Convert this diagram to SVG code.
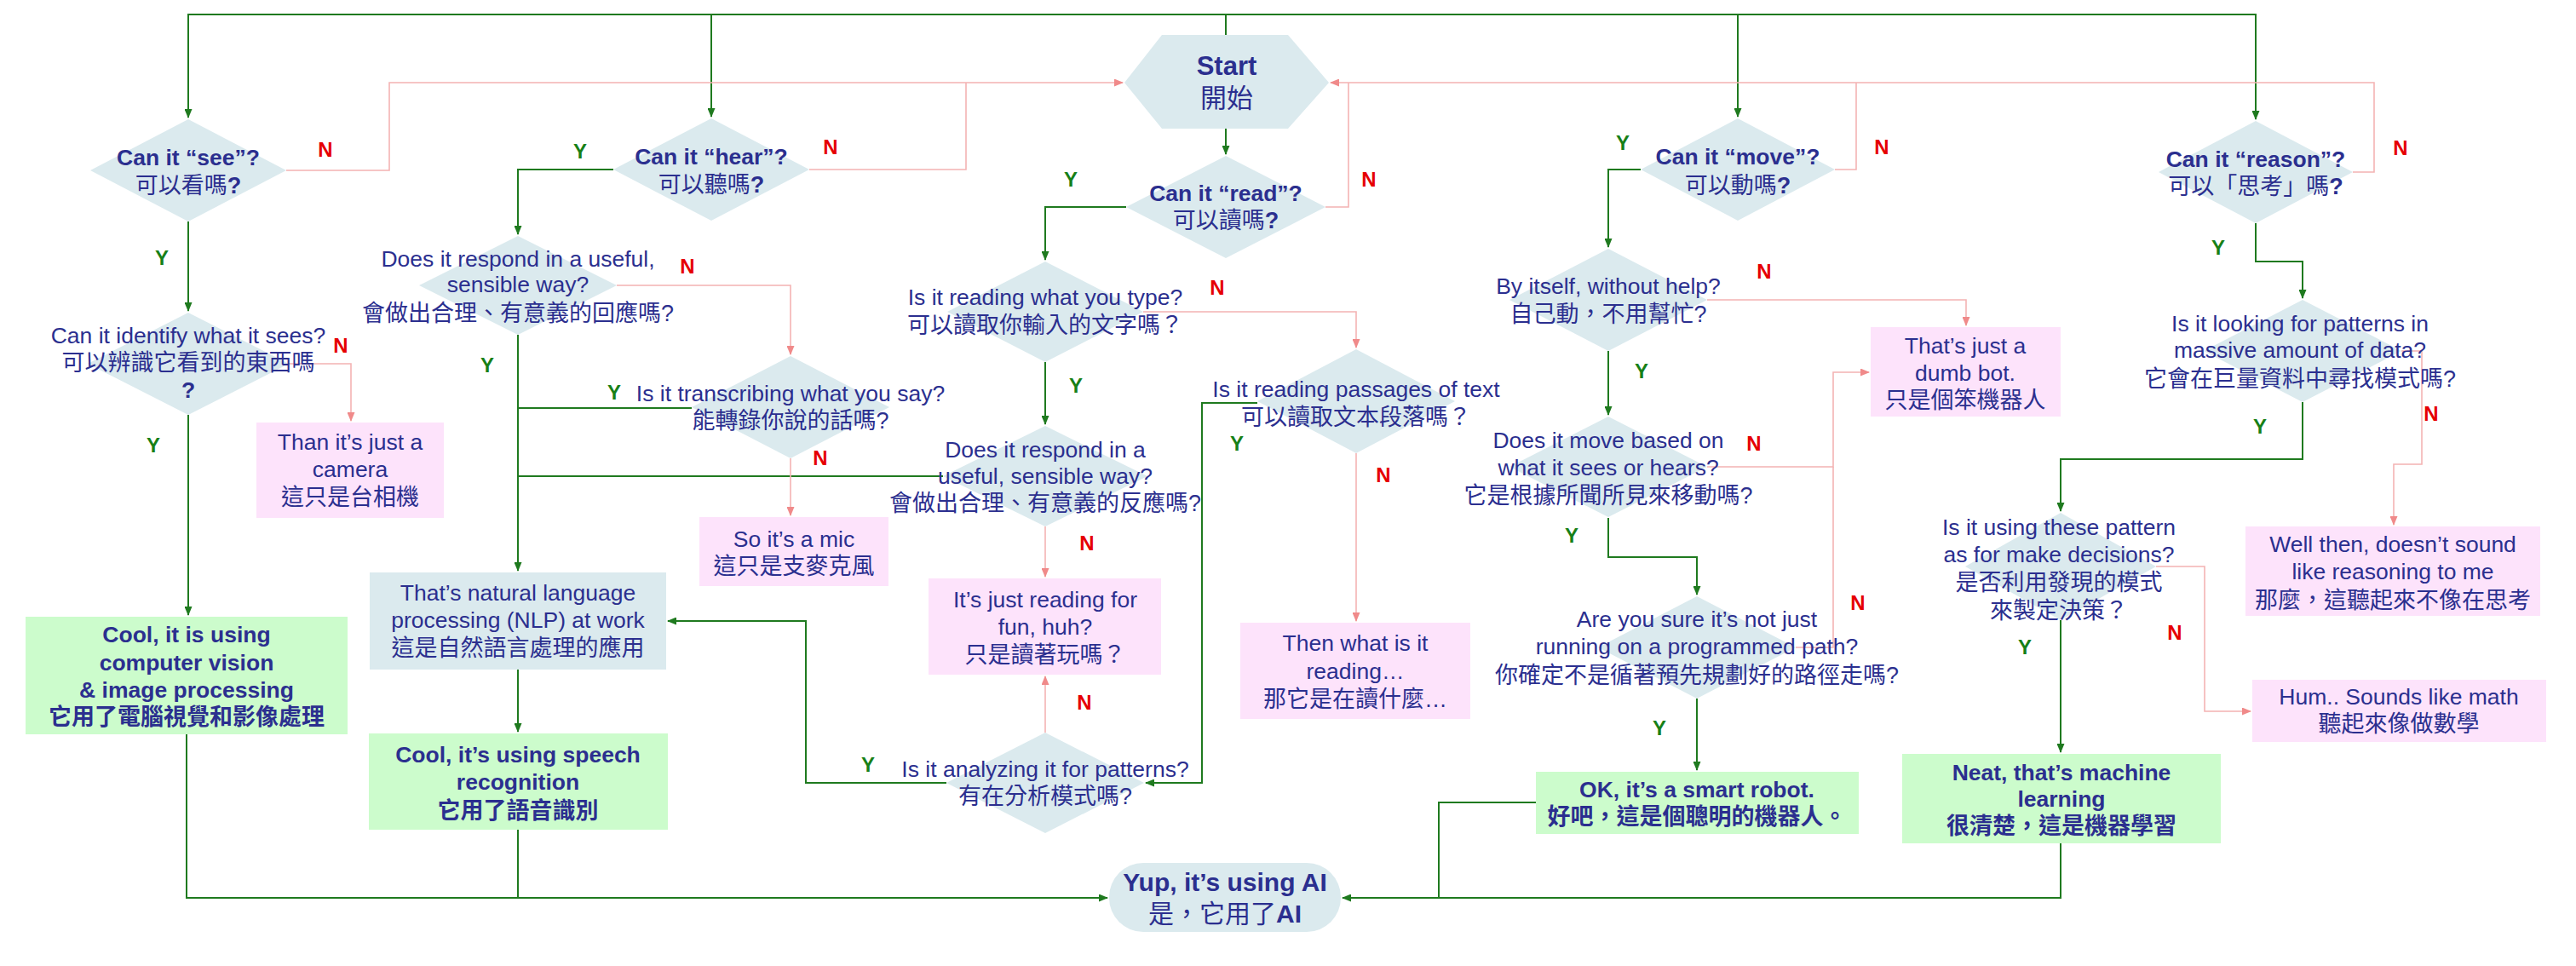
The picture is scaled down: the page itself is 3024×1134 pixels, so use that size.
<svg xmlns="http://www.w3.org/2000/svg" width="3024" height="1134" viewBox="0 0 3024 1134">
<style>
.t{font-family:"Liberation Sans","Noto Sans CJK TC",sans-serif;font-size:26.5px;fill:#2b2f8f;text-anchor:middle}
.b{font-weight:bold}
.c{font-size:27px}
.d{fill:#dbeaee}
.pk{fill:#fde3fb}
.gr{fill:#ccfccc}
.g{stroke:#1f7a1f;stroke-width:2;fill:none}
.r{stroke:#f4b3b3;stroke-width:1.6;fill:none}
.ly{fill:#178017;font-family:"Liberation Sans",sans-serif;font-weight:bold;font-size:24px;text-anchor:middle}
.ln{fill:#e60000;font-family:"Liberation Sans",sans-serif;font-weight:bold;font-size:24px;text-anchor:middle}
</style>
<defs>
<marker id="ag" markerWidth="11" markerHeight="9" refX="10" refY="4.5" orient="auto" markerUnits="userSpaceOnUse"><path d="M0,0 L11,4.5 L0,9 z" fill="#1f7a1f"/></marker>
<marker id="ar" markerWidth="11" markerHeight="9" refX="10" refY="4.5" orient="auto" markerUnits="userSpaceOnUse"><path d="M0,0 L11,4.5 L0,9 z" fill="#f08a8a"/></marker>
</defs>
<rect width="3024" height="1134" fill="#ffffff"/>

<g id="connectors">
<path class="g" d="M1439,41 V17 H221 V138" marker-end="url(#ag)"/>
<path class="g" d="M835,17 V137" marker-end="url(#ag)"/>
<path class="g" d="M1439,17 H2648 V140" marker-end="url(#ag)"/>
<path class="g" d="M2040,17 V137" marker-end="url(#ag)"/>
<path class="g" d="M1439,151 V181" marker-end="url(#ag)"/>
<path class="g" d="M221,260 V365" marker-end="url(#ag)"/>
<path class="g" d="M221,487 V722" marker-end="url(#ag)"/>
<path class="g" d="M219,862 V1054 H1300" marker-end="url(#ag)"/>
<path class="g" d="M720,199 H608 V275" marker-end="url(#ag)"/>
<path class="g" d="M608,393 V670" marker-end="url(#ag)"/>
<path class="g" d="M812,479 H608"/>
<path class="g" d="M1107,559 H608"/>
<path class="g" d="M608,786 V859" marker-end="url(#ag)"/>
<path class="g" d="M608,974 V1054"/>
<path class="g" d="M1322,243 H1227 V305" marker-end="url(#ag)"/>
<path class="g" d="M1227,425 V498" marker-end="url(#ag)"/>
<path class="g" d="M1476,473 H1411 V919 H1345" marker-end="url(#ag)"/>
<path class="g" d="M1111,919 H946 V729 H784" marker-end="url(#ag)"/>
<path class="g" d="M1926,199 H1888 V290" marker-end="url(#ag)"/>
<path class="g" d="M1888,412 V487" marker-end="url(#ag)"/>
<path class="g" d="M1888,608 V654 H1992 V698" marker-end="url(#ag)"/>
<path class="g" d="M1992,820 V904" marker-end="url(#ag)"/>
<path class="g" d="M1803,942 H1689 V1054"/>
<path class="g" d="M2419,990 V1054 H1576" marker-end="url(#ag)"/>
<path class="g" d="M2648,262 V307 H2703 V350" marker-end="url(#ag)"/>
<path class="g" d="M2703,472 V539 H2419 V600" marker-end="url(#ag)"/>
<path class="g" d="M2419,728 V883" marker-end="url(#ag)"/>

<path class="r" d="M336,200 H457 V97 H1318" marker-end="url(#ar)"/>
<path class="r" d="M950,199 H1134 V97"/>
<path class="r" d="M2762,202 H2787 V97 H1562" marker-end="url(#ar)"/>
<path class="r" d="M2154,199 H2179 V97"/>
<path class="r" d="M1556,243 H1583 V97"/>
<path class="r" d="M339,427 H412 V494" marker-end="url(#ar)"/>
<path class="r" d="M724,335 H928 V416" marker-end="url(#ar)"/>
<path class="r" d="M928,538 V605" marker-end="url(#ar)"/>
<path class="r" d="M1342,366 H1592 V408" marker-end="url(#ar)"/>
<path class="r" d="M1592,532 V729" marker-end="url(#ar)"/>
<path class="r" d="M1227,618 V677" marker-end="url(#ar)"/>
<path class="r" d="M1227,860 V794" marker-end="url(#ar)"/>
<path class="r" d="M2004,352 H2308 V382" marker-end="url(#ar)"/>
<path class="r" d="M2004,548 H2152 V437 H2194" marker-end="url(#ar)"/>
<path class="r" d="M2108,760 H2152 V548"/>
<path class="r" d="M2819,412 H2843 V545 H2810 V616" marker-end="url(#ar)"/>
<path class="r" d="M2531,665 H2588 V835 H2642" marker-end="url(#ar)"/>

<text class="ly" x="190" y="311">Y</text>
<text class="ly" x="180" y="531">Y</text>
<text class="ly" x="681" y="186">Y</text>
<text class="ly" x="572" y="437">Y</text>
<text class="ly" x="721" y="469">Y</text>
<text class="ly" x="1019" y="906">Y</text>
<text class="ly" x="1257" y="219">Y</text>
<text class="ly" x="1263" y="461">Y</text>
<text class="ly" x="1452" y="529">Y</text>
<text class="ly" x="1905" y="176">Y</text>
<text class="ly" x="1927" y="444">Y</text>
<text class="ly" x="1845" y="637">Y</text>
<text class="ly" x="1948" y="863">Y</text>
<text class="ly" x="2604" y="299">Y</text>
<text class="ly" x="2653" y="509">Y</text>
<text class="ly" x="2377" y="768">Y</text>

<text class="ln" x="382" y="184">N</text>
<text class="ln" x="400" y="414">N</text>
<text class="ln" x="975" y="181">N</text>
<text class="ln" x="807" y="321">N</text>
<text class="ln" x="963" y="546">N</text>
<text class="ln" x="1607" y="219">N</text>
<text class="ln" x="1429" y="346">N</text>
<text class="ln" x="1624" y="566">N</text>
<text class="ln" x="1276" y="646">N</text>
<text class="ln" x="1273" y="833">N</text>
<text class="ln" x="2209" y="181">N</text>
<text class="ln" x="2071" y="327">N</text>
<text class="ln" x="2059" y="529">N</text>
<text class="ln" x="2181" y="716">N</text>
<text class="ln" x="2818" y="182">N</text>
<text class="ln" x="2854" y="494">N</text>
<text class="ln" x="2553" y="751">N</text>
</g>

<g id="start">
<polygon class="d" points="1320,97 1364,41 1512,41 1560,97 1512,151 1364,151"/>
<text class="t b" x="1440" y="88" style="font-size:31px">Start</text>
<text class="t" x="1440" y="126" style="font-size:31px">開始</text>
</g>

<g id="see">
<polygon class="d" points="221,140 336,200 221,260 106,200"/>
<text class="t b" x="221" y="194">Can it “see”?</text>
<text class="t c" x="221" y="227">可以看嗎<tspan class="b">?</tspan></text>
</g>
<g id="identify">
<polygon class="d" points="221,367 339,427 221,487 103,427"/>
<text class="t" x="221" y="403">Can it identify what it sees?</text>
<text class="t c" x="221" y="435">可以辨識它看到的東西嗎</text>
<text class="t b" x="221" y="467">?</text>
</g>
<g id="camera">
<rect class="pk" x="301" y="496" width="220" height="112"/>
<text class="t" x="411" y="528">Than it’s just a</text>
<text class="t" x="411" y="560">camera</text>
<text class="t c" x="411" y="593">這只是台相機</text>
</g>
<g id="vision">
<rect class="gr" x="30" y="724" width="378" height="138"/>
<text class="t b" x="219" y="754">Cool, it is using</text>
<text class="t b" x="219" y="787">computer vision</text>
<text class="t b" x="219" y="819">&amp; image processing</text>
<text class="t c b" x="219" y="851">它用了電腦視覺和影像處理</text>
</g>

<g id="hear">
<polygon class="d" points="835,139 950,199 835,259 720,199"/>
<text class="t b" x="835" y="193">Can it “hear”?</text>
<text class="t c" x="835" y="226">可以聽嗎<tspan class="b">?</tspan></text>
</g>
<g id="respond1">
<polygon class="d" points="608,277 724,335 608,393 492,335"/>
<text class="t" x="608" y="313">Does it respond in a useful,</text>
<text class="t" x="608" y="343">sensible way?</text>
<text class="t c" x="608" y="377">會做出合理、有意義的回應嗎?</text>
</g>
<g id="transcribe">
<polygon class="d" points="928,418 1044,478 928,538 812,478"/>
<text class="t" x="928" y="471">Is it transcribing what you say?</text>
<text class="t c" x="928" y="503">能轉錄你說的話嗎?</text>
</g>
<g id="mic">
<rect class="pk" x="821" y="607" width="222" height="81"/>
<text class="t" x="932" y="642">So it’s a mic</text>
<text class="t c" x="932" y="674">這只是支麥克風</text>
</g>
<g id="nlp">
<rect class="d" x="434" y="672" width="348" height="114"/>
<text class="t" x="608" y="705">That’s natural language</text>
<text class="t" x="608" y="737">processing  (NLP) at work</text>
<text class="t c" x="608" y="770">這是自然語言處理的應用</text>
</g>
<g id="speech">
<rect class="gr" x="433" y="861" width="351" height="113"/>
<text class="t b" x="608" y="895">Cool, it’s using speech</text>
<text class="t b" x="608" y="927">recognition</text>
<text class="t c b" x="608" y="961">它用了語音識別</text>
</g>

<g id="read">
<polygon class="d" points="1439,183 1556,243 1439,303 1322,243"/>
<text class="t b" x="1439" y="236">Can it “read”?</text>
<text class="t c" x="1439" y="268">可以讀嗎<tspan class="b">?</tspan></text>
</g>
<g id="typed">
<polygon class="d" points="1227,307 1342,366 1227,425 1112,366"/>
<text class="t" x="1227" y="358">Is it reading what you type?</text>
<text class="t c" x="1227" y="391">可以讀取你輸入的文字嗎？</text>
</g>
<g id="respond2">
<polygon class="d" points="1227,500 1347,559 1227,618 1107,559"/>
<text class="t" x="1227" y="537">Does it respond in a</text>
<text class="t" x="1227" y="568">useful, sensible way?</text>
<text class="t c" x="1227" y="600">會做出合理、有意義的反應嗎?</text>
</g>
<g id="fun">
<rect class="pk" x="1090" y="679" width="273" height="113"/>
<text class="t" x="1227" y="713">It’s just reading for</text>
<text class="t" x="1227" y="745">fun, huh?</text>
<text class="t c" x="1227" y="778">只是讀著玩嗎？</text>
</g>
<g id="analyze">
<polygon class="d" points="1227,860 1343,919 1227,978 1111,919"/>
<text class="t" x="1227" y="912">Is it analyzing it for patterns?</text>
<text class="t c" x="1227" y="944">有在分析模式嗎?</text>
</g>
<g id="passages">
<polygon class="d" points="1592,410 1708,471 1592,532 1476,471"/>
<text class="t" x="1592" y="466">Is it reading passages of text</text>
<text class="t c" x="1592" y="499">可以讀取文本段落嗎？</text>
</g>
<g id="whatreading">
<rect class="pk" x="1456" y="731" width="270" height="113"/>
<text class="t" x="1591" y="764">Then what is it</text>
<text class="t" x="1591" y="797">reading…</text>
<text class="t c" x="1591" y="830">那它是在讀什麼…</text>
</g>
<g id="ai">
<rect class="d" x="1302" y="1013" width="272" height="81" rx="40" ry="40"/>
<text class="t b" x="1438" y="1046" style="font-size:30px">Yup, it’s using AI</text>
<text class="t" x="1438" y="1083" style="font-size:30px">是，它用了<tspan class="b">AI</tspan></text>
</g>

<g id="move">
<polygon class="d" points="2040,139 2154,199 2040,259 1926,199"/>
<text class="t b" x="2040" y="193">Can it “move”?</text>
<text class="t c" x="2040" y="227">可以動嗎<tspan class="b">?</tspan></text>
</g>
<g id="itself">
<polygon class="d" points="1888,292 2004,352 1888,412 1772,352"/>
<text class="t" x="1888" y="345">By itself, without help?</text>
<text class="t c" x="1888" y="378">自己動，不用幫忙?</text>
</g>
<g id="dumb">
<rect class="pk" x="2196" y="384" width="223" height="105"/>
<text class="t" x="2307" y="415">That’s just a</text>
<text class="t" x="2307" y="447">dumb bot.</text>
<text class="t c" x="2307" y="479">只是個笨機器人</text>
</g>
<g id="sensemove">
<polygon class="d" points="1888,489 2004,548 1888,607 1772,548"/>
<text class="t" x="1888" y="526">Does it move based on</text>
<text class="t" x="1888" y="558">what it sees or hears?</text>
<text class="t c" x="1888" y="591">它是根據所聞所見來移動嗎?</text>
</g>
<g id="programmed">
<polygon class="d" points="1992,700 2108,760 1992,820 1876,760"/>
<text class="t" x="1992" y="736">Are you sure it’s not just</text>
<text class="t" x="1992" y="768">running on a programmed path?</text>
<text class="t c" x="1992" y="802">你確定不是循著預先規劃好的路徑走嗎?</text>
</g>
<g id="smart">
<rect class="gr" x="1803" y="906" width="379" height="73"/>
<text class="t b" x="1992" y="936">OK, it’s a smart robot.</text>
<text class="t c b" x="1992" y="968">好吧，這是個聰明的機器人。</text>
</g>

<g id="reason">
<polygon class="d" points="2648,142 2762,202 2648,262 2534,202"/>
<text class="t b" x="2648" y="196">Can it “reason”?</text>
<text class="t c" x="2648" y="228">可以「思考」嗎<tspan class="b">?</tspan></text>
</g>
<g id="patterns">
<polygon class="d" points="2703,352 2819,412 2703,472 2587,412"/>
<text class="t" x="2700" y="389">Is it looking for patterns in</text>
<text class="t" x="2700" y="420">massive amount of data?</text>
<text class="t c" x="2700" y="454">它會在巨量資料中尋找模式嗎?</text>
</g>
<g id="noreason">
<rect class="pk" x="2636" y="618" width="346" height="105"/>
<text class="t" x="2809" y="648">Well then, doesn’t sound</text>
<text class="t" x="2809" y="680">like reasoning to me</text>
<text class="t c" x="2809" y="714">那麼，這聽起來不像在思考</text>
</g>
<g id="decisions">
<polygon class="d" points="2419,602 2531,665 2419,728 2307,665"/>
<text class="t" x="2417" y="628">Is it using these pattern</text>
<text class="t" x="2417" y="660">as for make decisions?</text>
<text class="t c" x="2417" y="693">是否利用發現的模式</text>
<text class="t c" x="2417" y="726">來製定決策？</text>
</g>
<g id="math">
<rect class="pk" x="2644" y="798" width="345" height="73"/>
<text class="t" x="2816" y="827">Hum.. Sounds like math</text>
<text class="t c" x="2816" y="859">聽起來像做數學</text>
</g>
<g id="ml">
<rect class="gr" x="2233" y="885" width="374" height="105"/>
<text class="t b" x="2420" y="916">Neat, that’s machine</text>
<text class="t b" x="2420" y="947">learning</text>
<text class="t c b" x="2420" y="979">很清楚，這是機器學習</text>
</g>
</svg>
